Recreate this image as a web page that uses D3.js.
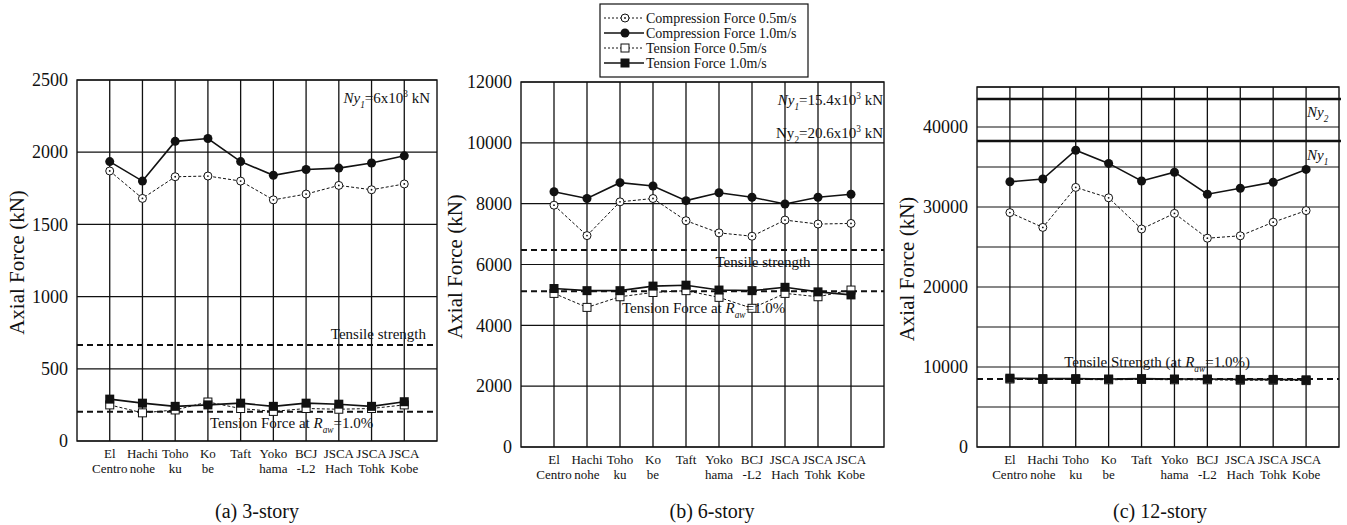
<!DOCTYPE html>
<html>
<head>
<meta charset="utf-8">
<script src="https://cdn.jsdelivr.net/npm/d3@7"></script>
<style>
  body { margin: 0; background: #fff; }
  svg { font-family: "Liberation Serif", "Times New Roman", serif; }
</style>
</head>
<body>
<svg id="chart" width="1347" height="525"></svg>
<script>
// earthquake records (two-line labels)
var cats = [["El","Centro"],["Hachi","nohe"],["Toho","ku"],["Ko","be"],["Taft",""],
            ["Yoko","hama"],["BCJ","-L2"],["JSCA","Hach"],["JSCA","Tohk"],["JSCA","Kobe"]];

// (a) 3-story
var comp05_3 = [1870, 1680, 1830, 1835, 1800, 1670, 1710, 1770, 1740, 1780];
var comp10_3 = [1935, 1800, 2075, 2095, 1935, 1840, 1880, 1890, 1925, 1975];
var ten05_3  = [250, 195, 215, 270, 225, 205, 225, 220, 225, 250];
var ten10_3  = [290, 262, 240, 250, 262, 240, 262, 255, 240, 272];
var ticks_3  = [0, 500, 1000, 1500, 2000, 2500];

// (b) 6-story
var comp05_6 = [7950, 6950, 8060, 8170, 7440, 7040, 6930, 7460, 7330, 7350];
var comp10_6 = [8390, 8170, 8690, 8580, 8100, 8360, 8210, 7990, 8210, 8310];
var ten05_6  = [5050, 4590, 4940, 5080, 5140, 4920, 4560, 5050, 4940, 5160];
var ten10_6  = [5210, 5140, 5140, 5290, 5320, 5160, 5140, 5250, 5100, 5000];
var ticks_6  = [0, 2000, 4000, 6000, 8000, 10000, 12000];

// (c) 12-story
var comp05_12 = [29300, 27450, 32450, 31150, 27250, 29200, 26100, 26400, 28100, 29550];
var comp10_12 = [33150, 33500, 37100, 35450, 33250, 34350, 31600, 32350, 33100, 34700];
var ten05_12  = [8500, 8450, 8450, 8400, 8450, 8400, 8400, 8350, 8350, 8300];
var ten10_12  = [8600, 8550, 8550, 8500, 8550, 8500, 8500, 8450, 8450, 8400];
var ticks_12  = [0, 10000, 20000, 30000, 40000];

var svg = d3.select('#chart');

function drawPanel(p) {
  var g = svg.append('g');
  var x = d3.scalePoint().domain(d3.range(cats.length)).range([p.left, p.right]).padding(1);
  var y = d3.scaleLinear().domain([0, p.yMax]).range([p.bottom, p.top]);

  // horizontal grid
  g.selectAll('.hg').data(p.grid).enter().append('line')
    .attr('x1', p.left).attr('x2', p.right)
    .attr('y1', function(d){ return y(d); }).attr('y2', function(d){ return y(d); })
    .attr('stroke', '#111').attr('stroke-width', 1.2);
  // vertical grid
  g.selectAll('.vg').data(d3.range(cats.length)).enter().append('line')
    .attr('x1', function(d){ return x(d); }).attr('x2', function(d){ return x(d); })
    .attr('y1', p.top).attr('y2', p.bottom)
    .attr('stroke', '#111').attr('stroke-width', 1.3);
  // frame
  g.append('rect').attr('x', p.left).attr('y', p.top)
    .attr('width', p.right - p.left).attr('height', p.bottom - p.top)
    .attr('fill', 'none').attr('stroke', '#111').attr('stroke-width', 1.4);

  // y axis labels
  var ax = g.append('g').attr('transform', 'translate(' + p.left + ',0)')
    .call(d3.axisLeft(y).tickValues(p.ticks).tickFormat(d3.format('d')).tickSize(0).tickPadding(9));
  ax.attr('font-family', null);
  ax.select('.domain').remove();
  ax.selectAll('text').attr('font-size', 18).attr('fill', '#111');

  // axis title
  g.append('text')
    .attr('transform', 'translate(' + p.titleX + ',' + ((p.top + p.bottom) / 2 + 2) + ') rotate(-90)')
    .attr('text-anchor', 'middle').attr('font-size', 21).attr('fill', '#111')
    .text('Axial Force (kN)');

  // x labels
  cats.forEach(function(c, i) {
    g.append('text').attr('x', x(i)).attr('y', p.bottom + 17)
      .attr('text-anchor', 'middle').attr('font-size', 13).attr('fill', '#111').text(c[0]);
    g.append('text').attr('x', x(i)).attr('y', p.bottom + 32)
      .attr('text-anchor', 'middle').attr('font-size', 13).attr('fill', '#111').text(c[1]);
  });

  // reference dashed lines
  p.dashed.forEach(function(v) {
    g.append('line').attr('x1', p.left).attr('x2', p.right)
      .attr('y1', y(v)).attr('y2', y(v))
      .attr('stroke', '#111').attr('stroke-width', 2).attr('stroke-dasharray', '6,4');
  });
  // thick Ny lines
  (p.thick || []).forEach(function(v) {
    g.append('line').attr('x1', p.left).attr('x2', p.right + 2)
      .attr('y1', y(v)).attr('y2', y(v))
      .attr('stroke', '#111').attr('stroke-width', 2.6);
  });

  var line = d3.line().x(function(d, i){ return x(i); }).y(function(d){ return y(d); });

  function series(vals, dashed, marker) {
    g.append('path').attr('d', line(vals)).attr('fill', 'none')
      .attr('stroke', '#111').attr('stroke-width', dashed ? 1 : 1.6)
      .attr('stroke-dasharray', dashed ? '3,2' : null);
    vals.forEach(function(v, i) { drawMarker(g, marker, x(i), y(v)); });
  }
  series(p.ten05, true, 'osq');
  series(p.ten10, false, 'fsq');
  series(p.comp05, true, 'oc');
  series(p.comp10, false, 'fc');

  p.notes(g, x, y);
}

function drawMarker(g, type, cx, cy) {
  if (type === 'oc') {
    g.append('circle').attr('cx', cx).attr('cy', cy).attr('r', 4)
      .attr('fill', '#fff').attr('stroke', '#111').attr('stroke-width', 1);
    g.append('circle').attr('cx', cx).attr('cy', cy).attr('r', 0.9).attr('fill', '#111');
  } else if (type === 'fc') {
    g.append('circle').attr('cx', cx).attr('cy', cy).attr('r', 4.5).attr('fill', '#111');
  } else if (type === 'osq') {
    g.append('rect').attr('x', cx - 4).attr('y', cy - 4).attr('width', 8).attr('height', 8)
      .attr('fill', '#fff').attr('stroke', '#111').attr('stroke-width', 1);
  } else {
    g.append('rect').attr('x', cx - 4.5).attr('y', cy - 4.5).attr('width', 9).attr('height', 9)
      .attr('fill', '#111');
  }
}

// text helper: parts = [[text, style]] style: 'i' italic, 'sub', 'isub', 'sup'
function rich(g, xPos, yPos, parts, size, anchor) {
  var t = g.append('text').attr('x', xPos).attr('y', yPos).attr('font-size', size)
    .attr('fill', '#111').attr('text-anchor', anchor || 'start');
  var shift = 0;
  parts.forEach(function(pt) {
    var s = pt[1] || '';
    var target = (s === 'sub' || s === 'isub') ? size * 0.35 : (s === 'sup' ? -size * 0.4 : 0);
    var dy = target - shift; shift = target;
    var ts = t.append('tspan').attr('dy', dy).text(pt[0]);
    if (s === 'i' || s === 'isub') ts.attr('font-style', 'italic');
    if (s === 'sub' || s === 'isub' || s === 'sup') ts.attr('font-size', size * 0.62);
  });
  return t;
}

drawPanel({
  left: 77, right: 437, top: 80, bottom: 441, yMax: 2500, titleX: 24,
  ticks: ticks_3, grid: ticks_3, dashed: [665, 202],
  comp05: comp05_3, comp10: comp10_3, ten05: ten05_3, ten10: ten10_3,
  notes: function(g, x, y) {
    rich(g, 430, 103, [['Ny', 'i'], ['1', 'isub'], ['=6x10', ''], ['3', 'sup'], [' kN', '']], 15, 'end');
    g.append('text').attr('x', 426).attr('y', y(665) - 6).attr('text-anchor', 'end')
      .attr('font-size', 15).attr('fill', '#111').text('Tensile strength');
    rich(g, 210, 428, [['Tension Force at ', ''], ['R', 'i'], ['aw', 'isub'], ['=1.0%', '']], 15, 'start');
  }
});

drawPanel({
  left: 521, right: 884, top: 82, bottom: 447, yMax: 12000, titleX: 462,
  ticks: ticks_6, grid: ticks_6, dashed: [6480, 5120],
  comp05: comp05_6, comp10: comp10_6, ten05: ten05_6, ten10: ten10_6,
  notes: function(g, x, y) {
    rich(g, 883, 105, [['Ny', 'i'], ['1', 'isub'], ['=15.4x10', ''], ['3', 'sup'], [' kN', '']], 15, 'end');
    rich(g, 883, 138, [['Ny', ''], ['2', 'sub'], ['=20.6x10', ''], ['3', 'sup'], [' kN', '']], 15, 'end');
    g.append('text').attr('x', 763).attr('y', 267).attr('text-anchor', 'middle')
      .attr('font-size', 15).attr('fill', '#111').text('Tensile strength');
    rich(g, 622, 313, [['Tension Force at ', ''], ['R', 'i'], ['aw', 'isub'], ['=1.0%', '']], 15, 'start');
  }
});

drawPanel({
  left: 977, right: 1339, top: 87, bottom: 447, yMax: 45000, titleX: 914,
  ticks: ticks_12, grid: d3.range(0, 45001, 5000), dashed: [8500], thick: [43500, 38250],
  comp05: comp05_12, comp10: comp10_12, ten05: ten05_12, ten10: ten10_12,
  notes: function(g, x, y) {
    rich(g, 1307, 117, [['Ny', 'i'], ['2', 'isub']], 15, 'start');
    rich(g, 1307, 160, [['Ny', 'i'], ['1', 'isub']], 15, 'start');
    rich(g, 1157, 367, [['Tensile Strength (at ', ''], ['R', 'i'], ['aw', 'isub'], ['=1.0%)', '']], 15, 'middle');
  }
});

// legend
var legendItems = ['Compression Force 0.5m/s', 'Compression Force 1.0m/s', 'Tension Force 0.5m/s', 'Tension Force 1.0m/s'];
var legendMarks = ['oc', 'fc', 'osq', 'fsq'];
var lg = svg.append('g');
lg.append('rect').attr('x', 600).attr('y', 4).attr('width', 208).attr('height', 73)
  .attr('fill', '#fff').attr('stroke', '#111').attr('stroke-width', 1.2);
legendItems.forEach(function(txt, i) {
  var yy = 18 + i * 15;
  var dashed = i % 2 === 0;
  lg.append('line').attr('x1', 604).attr('x2', 644).attr('y1', yy).attr('y2', yy)
    .attr('stroke', '#111').attr('stroke-width', dashed ? 1 : 1.6)
    .attr('stroke-dasharray', dashed ? '2,2' : null);
  drawMarker(lg, legendMarks[i], 625, yy);
  lg.append('text').attr('x', 646).attr('y', yy + 5).attr('font-size', 14)
    .attr('fill', '#111').text(txt);
});

// captions
[['(a) 3-story', 257], ['(b) 6-story', 712], ['(c) 12-story', 1160]].forEach(function(c) {
  svg.append('text').attr('x', c[1]).attr('y', 518).attr('text-anchor', 'middle')
    .attr('font-size', 20).attr('fill', '#111').text(c[0]);
});
</script>
</body>
</html>
